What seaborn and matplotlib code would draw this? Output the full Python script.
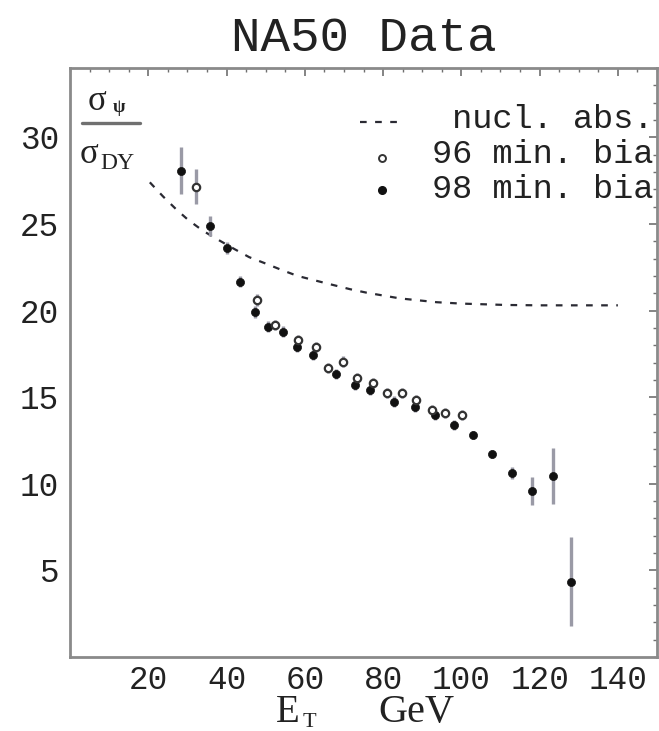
import numpy as np
import pandas as pd
import matplotlib
matplotlib.use("Agg")
import matplotlib.pyplot as plt
import seaborn as sns
from matplotlib.ticker import MultipleLocator

# ---------------- data ----------------
abs_et = [20.4, 23.8, 27.1, 30.2, 34.0, 37.9, 42.0, 45.8, 49.8, 54.1, 58.1,
          65.0, 71.6, 75.8, 84.3, 93.7, 100.0, 111.6, 120.0, 130.0, 140.0]
abs_ratio = [27.4, 26.58, 25.85, 25.23, 24.6, 24.08, 23.55, 23.08, 22.73, 22.34,
             22.0, 21.6, 21.23, 21.03, 20.7, 20.48, 20.4, 20.32, 20.3, 20.3, 20.3]

et96 = [32.1, 47.9, 52.4, 58.3, 62.8, 66.0, 69.7, 73.3, 77.3, 80.9, 84.8,
        88.4, 92.4, 95.8, 100.1]
ratio96 = [27.15, 20.6, 19.17, 18.3, 17.88, 16.67, 17.05, 16.09, 15.8, 15.23,
           15.23, 14.84, 14.26, 14.07, 13.97]
err96 = [1.0, 0.35, 0.3, 0.3, 0.3, 0.3, 0.3, 0.3, 0.3, 0.3, 0.3, 0.3, 0.3,
         0.3, 0.3]

et98 = [28.3, 35.8, 40.0, 43.4, 47.3, 50.6, 54.4, 58.1, 62.2, 68.0, 72.8,
        76.7, 82.8, 88.2, 93.3, 98.0, 102.9, 107.9, 113.0, 118.0, 123.4, 128.0]
ratio98 = [28.08, 24.88, 23.6, 21.67, 19.9, 19.07, 18.78, 17.9, 17.44, 16.32,
           15.7, 15.4, 14.74, 14.45, 13.97, 13.39, 12.82, 11.72, 10.6, 9.6,
           10.45, 4.35]
err98 = [1.36, 0.6, 0.35, 0.3, 0.35, 0.3, 0.3, 0.3, 0.3, 0.3, 0.3, 0.3, 0.3,
         0.3, 0.3, 0.3, 0.25, 0.25, 0.35, 0.8, 1.6, 2.57]

x_ticks = [20, 40, 60, 80, 100, 120, 140]
y_ticks = [5, 10, 15, 20, 25, 30]
legend_labels = [" nucl. abs.", "96 min. bia", "98 min. bia"]
title = "NA50 Data"

# ---------------- style ----------------
sns.set_theme(style="white")
plt.rcParams["font.family"] = ["Liberation Mono", "DejaVu Sans"]

fig = plt.figure(figsize=(6.59, 7.31), dpi=100)
ax = fig.add_axes([70 / 659, 1 - 657 / 731, 587 / 659, 589 / 731])

df_abs = pd.DataFrame({"et": abs_et, "ratio": abs_ratio})
df96 = pd.DataFrame({"et": et96, "ratio": ratio96, "err": err96})
df98 = pd.DataFrame({"et": et98, "ratio": ratio98, "err": err98})

line_style = (0, (3.0, 3.8))
sns.lineplot(data=df_abs, x="et", y="ratio", ax=ax, color="#2a2a33",
             linewidth=1.6, linestyle=line_style, legend=False)

err_color = "#9a9aa6"
ax.errorbar(df98["et"], df98["ratio"], yerr=df98["err"], fmt="none",
            ecolor=err_color, elinewidth=2.4, capsize=0, zorder=2)
ax.errorbar(df96["et"], df96["ratio"], yerr=df96["err"], fmt="none",
            ecolor=err_color, elinewidth=2.4, capsize=0, zorder=2)

sns.scatterplot(data=df98, x="et", y="ratio", ax=ax, color="#111111",
                marker="o", s=34, edgecolor="#111111", linewidth=0.5,
                zorder=3, legend=False)
sns.scatterplot(data=df96, x="et", y="ratio", ax=ax, color="white",
                marker="o", s=28, edgecolor="#333333", linewidth=1.6,
                zorder=3, legend=False)

ax.set_xlim(0, 150)
ax.set_ylim(0, 34)
ax.set_xticks(x_ticks)
ax.set_yticks(y_ticks)
ax.xaxis.set_minor_locator(MultipleLocator(5))
ax.yaxis.set_minor_locator(MultipleLocator(1))
ax.tick_params(which="both", direction="in", top=True, right=True,
               color="#707070")
ax.tick_params(which="major", length=6, width=1.2)
ax.tick_params(which="minor", length=3, width=1.0)
ax.tick_params(axis="y", which="major", pad=8, labelsize=23.5,
               labelcolor="#222222")
ax.tick_params(axis="x", which="major", pad=6, labelsize=23.5,
               labelcolor="#222222")
ax.set_xlabel("")
ax.set_ylabel("")
for sp in ax.spines.values():
    sp.set_color("#8a8a8a")
    sp.set_linewidth(2.0)

ax.set_title(title, fontsize=35.5, pad=12, color="#222222")

# x label: E_T   GeV
serif = ["Liberation Serif", "DejaVu Serif"]
fig.text(276 / 659, 1 - 722 / 731, "E", family=serif, fontsize=28,
         ha="left", va="baseline", color="#222222")
fig.text(303 / 659, 1 - 727 / 731, "T", family=serif, fontsize=16,
         ha="left", va="baseline", color="#222222")
fig.text(378 / 659, 1 - 722 / 731, "GeV", family=serif, fontsize=29,
         ha="left", va="baseline", color="#222222")

# y label as a fraction inside the frame
ax.text(0.030, 0.929, "σ", transform=ax.transAxes, family=serif,
        fontsize=25, ha="left", va="baseline", color="#222222")
ax.text(0.073, 0.925, "ψ", transform=ax.transAxes, family=serif,
        fontsize=13, ha="left", va="baseline", color="#222222",
        fontweight="bold")
ax.plot([0.020, 0.119], [0.906, 0.906], transform=ax.transAxes,
        color="#707070", linewidth=2.4, clip_on=False)
ax.text(0.017, 0.839, "σ", transform=ax.transAxes, family=serif,
        fontsize=25, ha="left", va="baseline", color="#222222")
ax.text(0.051, 0.828, "DY", transform=ax.transAxes, family=serif,
        fontsize=17, ha="left", va="baseline", color="#222222")

# manual legend
ax.plot([0.494, 0.562], [0.908, 0.908], transform=ax.transAxes,
        color="#2a2a33", linewidth=1.6, linestyle=line_style)
ax.plot([0.531], [0.847], transform=ax.transAxes, marker="o",
        markersize=5, markerfacecolor="white", markeredgecolor="#333333",
        markeredgewidth=1.4, linestyle="none")
ax.plot([0.531], [0.793], transform=ax.transAxes, marker="o",
        markersize=5.5, color="#111111", linestyle="none")
for lab, yy in zip(legend_labels, [0.898, 0.838, 0.779]):
    ax.text(0.616, yy, lab, transform=ax.transAxes, fontsize=24.2,
            ha="left", va="baseline", color="#222222")

fig.savefig("out.png", dpi=100)
